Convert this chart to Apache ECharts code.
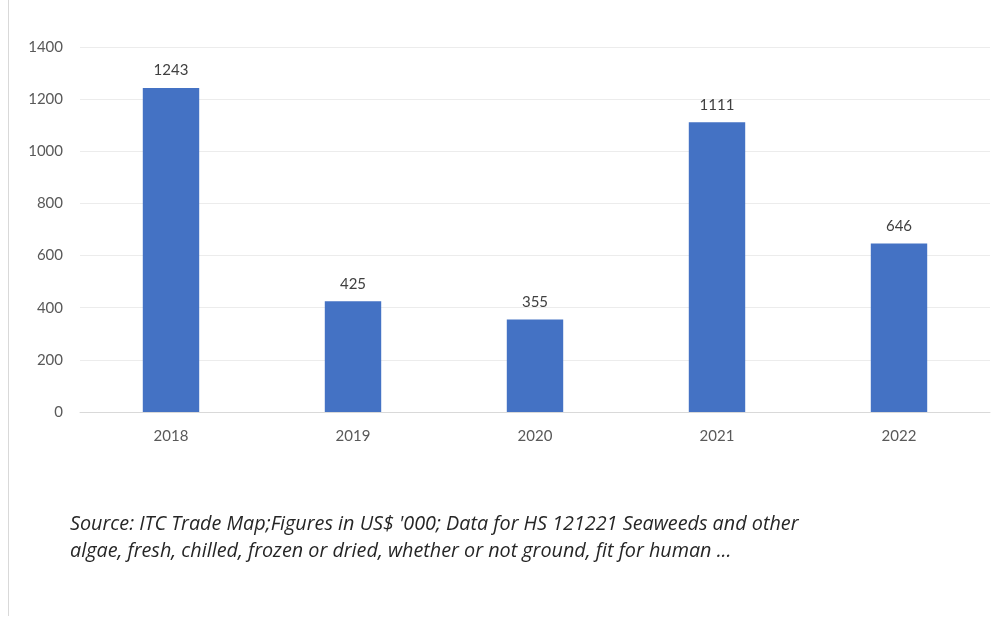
<!DOCTYPE html>
<html>
<head>
<meta charset="utf-8">
<script src="https://cdn.jsdelivr.net/npm/echarts@6/dist/echarts.min.js"></script>
<style>
  html, body { margin: 0; padding: 0; background: #fff; }
  #chart { width: 998px; height: 618px; }
</style>
</head>
<body>
<div id="chart"></div>
<script>
const years = ["2018", "2019", "2020", "2021", "2022"]
const values = [1243, 425, 355, 1111, 646]
const yTicks = { min: 0, max: 1400, interval: 200 }
const sourceLines = [
  "Source: ITC Trade Map;Figures in US$ '000; Data for HS 121221 Seaweeds and other",
  "algae, fresh, chilled, frozen or dried, whether or not ground, fit for human ..."
]

const chart = echarts.init(document.getElementById("chart"))

chart.setOption({
  animation: false,
  textStyle: { fontFamily: "Lato, 'Open Sans', sans-serif" },
  grid: { left: 80, right: 8, top: 47, bottom: 206 },
  xAxis: {
    type: "category",
    data: years,
    axisTick: { show: false },
    axisLine: { lineStyle: { color: "#d9d9d9", width: 1 } },
    axisLabel: { color: "#595959", fontSize: 15, margin: 17 }
  },
  yAxis: {
    type: "value",
    min: yTicks.min,
    max: yTicks.max,
    interval: yTicks.interval,
    axisLine: { show: false },
    axisTick: { show: false },
    axisLabel: { color: "#595959", fontSize: 15, margin: 17, formatter: (v) => String(v) },
    splitLine: { lineStyle: { color: "#ececec", width: 1 } }
  },
  series: [
    {
      type: "bar",
      data: values,
      barWidth: "31%",
      itemStyle: { color: "#4472c4" },
      label: {
        show: true,
        position: "top",
        distance: 10,
        color: "#404040",
        fontSize: 15
      }
    }
  ],
  graphic: [
    {
      type: "line",
      shape: { x1: 8.5, y1: 0, x2: 8.5, y2: 616 },
      style: { stroke: "#d9d9d9", lineWidth: 1 }
    },
    {
      type: "text",
      left: 70,
      top: 511,
      style: {
        text: sourceLines.join("\n"),
        fill: "#262626",
        font: "italic 19.8px 'Open Sans', Lato, sans-serif",
        lineHeight: 27
      }
    }
  ]
})
</script>
</body>
</html>
